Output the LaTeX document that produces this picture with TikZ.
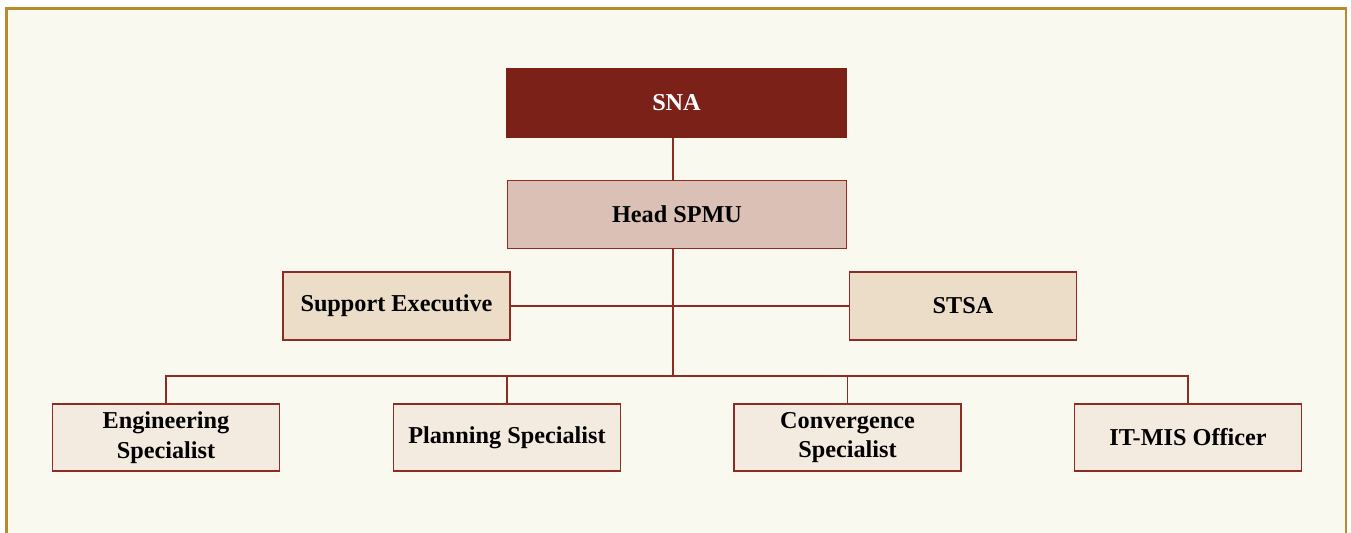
\documentclass[tikz,border=0pt]{standalone}
\usepackage{fontspec}
\setmainfont{Liberation Serif}
\usepackage{xcolor}
\definecolor{pageBg}{HTML}{FAF9EF}
\definecolor{frameCol}{HTML}{B98A2E}
\definecolor{lineCol}{HTML}{8E2B22}
\definecolor{snaFill}{HTML}{7C2118}
\definecolor{headFill}{HTML}{DBC0B5}
\definecolor{midFill}{HTML}{EBDDC7}
\definecolor{lowFill}{HTML}{F3EAE0}

\begin{document}
\begin{tikzpicture}[x=0.02cm,y=-0.02cm,
    box/.style={draw=lineCol,line width=0.8pt,minimum width=227*0.02cm,
      minimum height=67*0.02cm,inner sep=2pt,align=center,
      font=\fontsize{13.8}{17}\selectfont\bfseries},
    topbox/.style={box,minimum width=339*0.02cm,minimum height=68*0.02cm},
    link/.style={draw=lineCol,line width=0.7pt}]
    \useasboundingbox (0,0) rectangle (1351,533);
    \fill[pageBg] (6.5,8.5) rectangle (1346,533);
    \draw[frameCol,line width=1.4pt] (6.5,533) -- (6.5,8.5) -- (1346,8.5) -- (1346,533);

    \node[topbox,fill=snaFill,draw=snaFill,text=white] (sna) at (676.5,103) {SNA};
    \node[topbox,fill=headFill] (head) at (677,214.5) {Head SPMU};
    \node[box,fill=midFill,minimum height=68*0.02cm] (supp) at (396.5,306) {Support Executive};
    \node[box,fill=midFill,minimum height=68*0.02cm] (stsa) at (963,306) {STSA};

    \node[box,fill=lowFill] (eng) at (166,437.5) {Engineering\\Specialist};
    \node[box,fill=lowFill] (plan) at (507,437.5) {Planning Specialist};
    \node[box,fill=lowFill] (conv) at (847.5,437.5) {Convergence\\Specialist};
    \node[box,fill=lowFill] (itmis) at (1188,437.5) {IT-MIS Officer};
    \coordinate (bus) at (673,376);

    % connectors
    \draw[link] (sna.south -| bus) -- (head.north -| bus);
    \draw[link] (head.south -| bus) -- (bus);
    \draw[link] (supp.east) -- (stsa.west);
    \draw[link] (eng.north) |- (bus) -| (itmis.north);
    \draw[link] (plan.north) -- (plan.north |- bus);
    \draw[link] (conv.north) -- (conv.north |- bus);
\end{tikzpicture}
\end{document}
